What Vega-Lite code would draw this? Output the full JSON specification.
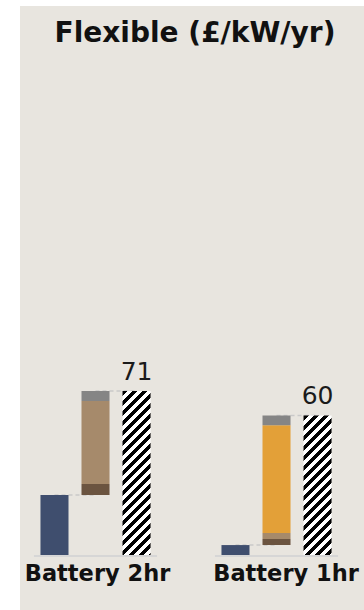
{
  "$schema": "https://vega.github.io/schema/vega-lite/v6.json",
  "width": 344,
  "height": 604,
  "autosize": {"type": "none"},
  "padding": {"left": 20, "top": 6, "right": 0, "bottom": 0},
  "background": "#ffffff",
  "config": {"view": {"fill": "#e8e5df", "stroke": null}, "font": "DejaVu Sans"},
  "title": {"text": "Flexible (£/kW/yr)", "fontSize": 28, "fontWeight": "bold", "color": "#111111", "anchor": "middle", "frame": "group", "baseline": "alphabetic", "offset": -63.5, "dx": 3},
  "datasets": {
    "bars": [
      {"group": "Battery 2hr", "item": "base", "comp": "Baseline", "start": 0, "end": 26.0},
      {"group": "Battery 2hr", "item": "stack", "comp": "Network", "start": 26.0, "end": 30.7},
      {"group": "Battery 2hr", "item": "stack", "comp": "Arbitrage", "start": 30.7, "end": 66.7},
      {"group": "Battery 2hr", "item": "stack", "comp": "Other", "start": 66.7, "end": 71.0},
      {"group": "Battery 2hr", "item": "total", "comp": "Total", "start": 0, "end": 71.0},
      {"group": "Battery 1hr", "item": "base", "comp": "Baseline", "start": 0, "end": 4.3},
      {"group": "Battery 1hr", "item": "stack", "comp": "Network", "start": 4.3, "end": 6.9},
      {"group": "Battery 1hr", "item": "stack", "comp": "Arbitrage", "start": 6.9, "end": 9.5},
      {"group": "Battery 1hr", "item": "stack", "comp": "Balancing", "start": 9.5, "end": 56.2},
      {"group": "Battery 1hr", "item": "stack", "comp": "Other", "start": 56.2, "end": 60.4},
      {"group": "Battery 1hr", "item": "total", "comp": "Total", "start": 0, "end": 60.4}
    ],
    "connectors": [
      {"group": "Battery 2hr", "item": "base", "value": 26.0, "id": "2hr-a"},
      {"group": "Battery 2hr", "item": "stack", "value": 26.0, "id": "2hr-a"},
      {"group": "Battery 2hr", "item": "stack", "value": 71.0, "id": "2hr-b"},
      {"group": "Battery 2hr", "item": "total", "value": 71.0, "id": "2hr-b"},
      {"group": "Battery 1hr", "item": "base", "value": 4.3, "id": "1hr-a"},
      {"group": "Battery 1hr", "item": "stack", "value": 4.3, "id": "1hr-a"},
      {"group": "Battery 1hr", "item": "stack", "value": 60.4, "id": "1hr-b"},
      {"group": "Battery 1hr", "item": "total", "value": 60.4, "id": "1hr-b"}
    ],
    "baseline": [
      {"group": "Battery 2hr", "y0": 0, "y1": -0.87},
      {"group": "Battery 1hr", "y0": 0, "y1": -0.87}
    ]
  },
  "encoding": {
    "x": {
      "field": "group", "type": "nominal", "sort": ["Battery 2hr", "Battery 1hr"],
      "scale": {"paddingInner": 0.32, "paddingOuter": 0.1103, "align": 0.35},
      "axis": {"title": null, "domain": false, "ticks": false, "labelAngle": 0, "labelFontSize": 22.5, "labelFontWeight": "bold", "labelColor": "#111111", "labelPadding": 25, "labelBaseline": "alphabetic", "offset": -55, "labelOverlap": false, "labelLimit": 300,
        "labelOffset": {"condition": {"test": "datum.value === 'Battery 1hr'", "value": 9.5}, "value": 2}}
    }
  },
  "layer": [
    {
      "data": {"name": "baseline"},
      "mark": {"type": "bar", "fill": "#d6d6d6"},
      "encoding": {
        "y": {"field": "y0", "type": "quantitative", "scale": {"domain": [-23.81, 237.67], "nice": false, "zero": false}, "axis": null},
        "y2": {"field": "y1"}
      }
    },
    {
      "data": {"name": "connectors"},
      "mark": {"type": "line", "stroke": "#c9c9c9", "strokeWidth": 1.5, "strokeDash": [4, 3]},
      "encoding": {
        "xOffset": {"field": "item", "type": "nominal", "scale": {"domain": ["base", "stack", "total"], "paddingInner": 0.317, "paddingOuter": 0.1585}},
        "y": {"field": "value", "type": "quantitative", "axis": null},
        "detail": {"field": "id"}
      }
    },
    {
      "data": {"name": "bars"},
      "transform": [{"filter": "datum.comp !== 'Total'"}],
      "mark": {"type": "bar"},
      "encoding": {
        "xOffset": {"field": "item", "type": "nominal"},
        "y": {"field": "start", "type": "quantitative", "axis": null},
        "y2": {"field": "end"},
        "color": {"field": "comp", "type": "nominal", "legend": null,
          "scale": {"domain": ["Baseline", "Network", "Arbitrage", "Balancing", "Other"], "range": ["#3f4e6e", "#6b5440", "#a68a6b", "#e3a038", "#858585"]}}
      }
    },
    {
      "data": {"name": "bars"},
      "transform": [{"filter": "datum.comp === 'Total' && datum.group === 'Battery 2hr'"}],
      "mark": {"type": "bar", "fill": {"gradient": "linear", "x1": 0, "y1": 0, "x2": 0.19422, "y2": 1.13757, "stops": [
        {"offset": 0, "color": "#000"},
        {"offset": 0.02604, "color": "#000"}, {"offset": 0.02604, "color": "#fff"},
        {"offset": 0.05208, "color": "#fff"}, {"offset": 0.05208, "color": "#000"},
        {"offset": 0.07813, "color": "#000"}, {"offset": 0.07813, "color": "#fff"},
        {"offset": 0.10417, "color": "#fff"}, {"offset": 0.10417, "color": "#000"},
        {"offset": 0.13021, "color": "#000"}, {"offset": 0.13021, "color": "#fff"},
        {"offset": 0.15625, "color": "#fff"}, {"offset": 0.15625, "color": "#000"},
        {"offset": 0.18229, "color": "#000"}, {"offset": 0.18229, "color": "#fff"},
        {"offset": 0.20833, "color": "#fff"}, {"offset": 0.20833, "color": "#000"},
        {"offset": 0.23438, "color": "#000"}, {"offset": 0.23438, "color": "#fff"},
        {"offset": 0.26042, "color": "#fff"}, {"offset": 0.26042, "color": "#000"},
        {"offset": 0.28646, "color": "#000"}, {"offset": 0.28646, "color": "#fff"},
        {"offset": 0.3125, "color": "#fff"}, {"offset": 0.3125, "color": "#000"},
        {"offset": 0.33854, "color": "#000"}, {"offset": 0.33854, "color": "#fff"},
        {"offset": 0.36458, "color": "#fff"}, {"offset": 0.36458, "color": "#000"},
        {"offset": 0.39063, "color": "#000"}, {"offset": 0.39063, "color": "#fff"},
        {"offset": 0.41667, "color": "#fff"}, {"offset": 0.41667, "color": "#000"},
        {"offset": 0.44271, "color": "#000"}, {"offset": 0.44271, "color": "#fff"},
        {"offset": 0.46875, "color": "#fff"}, {"offset": 0.46875, "color": "#000"},
        {"offset": 0.49479, "color": "#000"}, {"offset": 0.49479, "color": "#fff"},
        {"offset": 0.52083, "color": "#fff"}, {"offset": 0.52083, "color": "#000"},
        {"offset": 0.54688, "color": "#000"}, {"offset": 0.54688, "color": "#fff"},
        {"offset": 0.57292, "color": "#fff"}, {"offset": 0.57292, "color": "#000"},
        {"offset": 0.59896, "color": "#000"}, {"offset": 0.59896, "color": "#fff"},
        {"offset": 0.625, "color": "#fff"}, {"offset": 0.625, "color": "#000"},
        {"offset": 0.65104, "color": "#000"}, {"offset": 0.65104, "color": "#fff"},
        {"offset": 0.67708, "color": "#fff"}, {"offset": 0.67708, "color": "#000"},
        {"offset": 0.70313, "color": "#000"}, {"offset": 0.70313, "color": "#fff"},
        {"offset": 0.72917, "color": "#fff"}, {"offset": 0.72917, "color": "#000"},
        {"offset": 0.75521, "color": "#000"}, {"offset": 0.75521, "color": "#fff"},
        {"offset": 0.78125, "color": "#fff"}, {"offset": 0.78125, "color": "#000"},
        {"offset": 0.80729, "color": "#000"}, {"offset": 0.80729, "color": "#fff"},
        {"offset": 0.83333, "color": "#fff"}, {"offset": 0.83333, "color": "#000"},
        {"offset": 0.85938, "color": "#000"}, {"offset": 0.85938, "color": "#fff"},
        {"offset": 0.88542, "color": "#fff"}, {"offset": 0.88542, "color": "#000"},
        {"offset": 0.91146, "color": "#000"}, {"offset": 0.91146, "color": "#fff"},
        {"offset": 0.9375, "color": "#fff"}, {"offset": 0.9375, "color": "#000"},
        {"offset": 0.96354, "color": "#000"}, {"offset": 0.96354, "color": "#fff"},
        {"offset": 0.98958, "color": "#fff"}, {"offset": 0.98958, "color": "#000"},
        {"offset": 1, "color": "#000"}
      ]}},
      "encoding": {
        "xOffset": {"field": "item", "type": "nominal"},
        "y": {"field": "start", "type": "quantitative", "axis": null},
        "y2": {"field": "end"}
      }
    },
    {
      "data": {"name": "bars"},
      "transform": [{"filter": "datum.comp === 'Total' && datum.group === 'Battery 1hr'"}],
      "mark": {"type": "bar", "fill": {"gradient": "linear", "x1": 0, "y1": 0, "x2": 0.23167, "y2": 1.15424, "stops": [
        {"offset": 0, "color": "#000"},
        {"offset": 0.02985, "color": "#000"}, {"offset": 0.02985, "color": "#fff"},
        {"offset": 0.0597, "color": "#fff"}, {"offset": 0.0597, "color": "#000"},
        {"offset": 0.08955, "color": "#000"}, {"offset": 0.08955, "color": "#fff"},
        {"offset": 0.1194, "color": "#fff"}, {"offset": 0.1194, "color": "#000"},
        {"offset": 0.14925, "color": "#000"}, {"offset": 0.14925, "color": "#fff"},
        {"offset": 0.1791, "color": "#fff"}, {"offset": 0.1791, "color": "#000"},
        {"offset": 0.20896, "color": "#000"}, {"offset": 0.20896, "color": "#fff"},
        {"offset": 0.23881, "color": "#fff"}, {"offset": 0.23881, "color": "#000"},
        {"offset": 0.26866, "color": "#000"}, {"offset": 0.26866, "color": "#fff"},
        {"offset": 0.29851, "color": "#fff"}, {"offset": 0.29851, "color": "#000"},
        {"offset": 0.32836, "color": "#000"}, {"offset": 0.32836, "color": "#fff"},
        {"offset": 0.35821, "color": "#fff"}, {"offset": 0.35821, "color": "#000"},
        {"offset": 0.38806, "color": "#000"}, {"offset": 0.38806, "color": "#fff"},
        {"offset": 0.41791, "color": "#fff"}, {"offset": 0.41791, "color": "#000"},
        {"offset": 0.44776, "color": "#000"}, {"offset": 0.44776, "color": "#fff"},
        {"offset": 0.47761, "color": "#fff"}, {"offset": 0.47761, "color": "#000"},
        {"offset": 0.50746, "color": "#000"}, {"offset": 0.50746, "color": "#fff"},
        {"offset": 0.53731, "color": "#fff"}, {"offset": 0.53731, "color": "#000"},
        {"offset": 0.56716, "color": "#000"}, {"offset": 0.56716, "color": "#fff"},
        {"offset": 0.59701, "color": "#fff"}, {"offset": 0.59701, "color": "#000"},
        {"offset": 0.62687, "color": "#000"}, {"offset": 0.62687, "color": "#fff"},
        {"offset": 0.65672, "color": "#fff"}, {"offset": 0.65672, "color": "#000"},
        {"offset": 0.68657, "color": "#000"}, {"offset": 0.68657, "color": "#fff"},
        {"offset": 0.71642, "color": "#fff"}, {"offset": 0.71642, "color": "#000"},
        {"offset": 0.74627, "color": "#000"}, {"offset": 0.74627, "color": "#fff"},
        {"offset": 0.77612, "color": "#fff"}, {"offset": 0.77612, "color": "#000"},
        {"offset": 0.80597, "color": "#000"}, {"offset": 0.80597, "color": "#fff"},
        {"offset": 0.83582, "color": "#fff"}, {"offset": 0.83582, "color": "#000"},
        {"offset": 0.86567, "color": "#000"}, {"offset": 0.86567, "color": "#fff"},
        {"offset": 0.89552, "color": "#fff"}, {"offset": 0.89552, "color": "#000"},
        {"offset": 0.92537, "color": "#000"}, {"offset": 0.92537, "color": "#fff"},
        {"offset": 0.95522, "color": "#fff"}, {"offset": 0.95522, "color": "#000"},
        {"offset": 0.98507, "color": "#000"}, {"offset": 0.98507, "color": "#fff"},
        {"offset": 1, "color": "#fff"}
      ]}},
      "encoding": {
        "xOffset": {"field": "item", "type": "nominal"},
        "y": {"field": "start", "type": "quantitative", "axis": null},
        "y2": {"field": "end"}
      }
    },
    {
      "data": {"name": "bars"},
      "transform": [{"filter": "datum.comp === 'Total'"}],
      "mark": {"type": "text", "fontSize": 25, "color": "#1a1a1a", "baseline": "alphabetic", "dy": -11},
      "encoding": {
        "xOffset": {"field": "item", "type": "nominal"},
        "y": {"field": "end", "type": "quantitative", "axis": null},
        "text": {"field": "end", "type": "quantitative", "format": ".0f"}
      }
    }
  ]
}
